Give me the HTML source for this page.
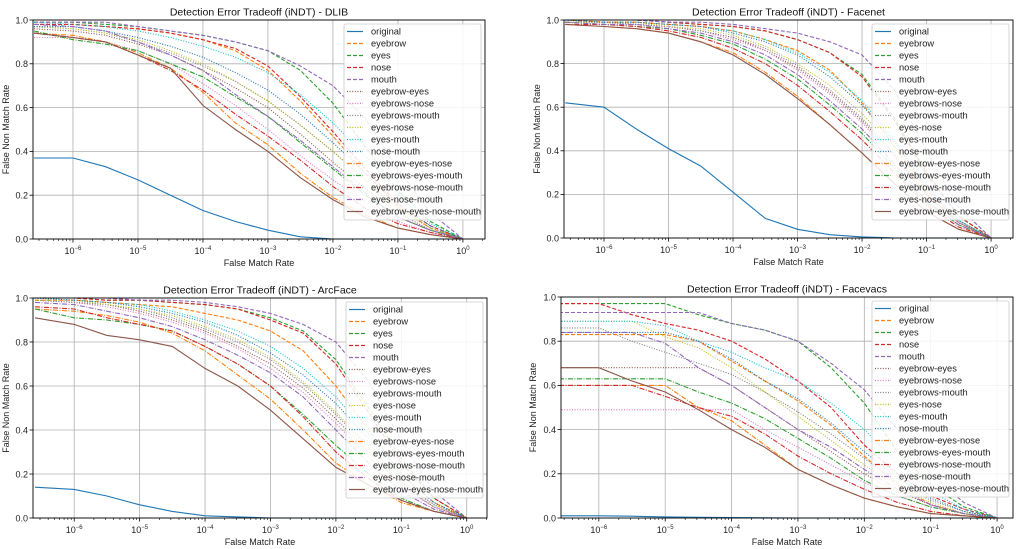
<!DOCTYPE html>
<html><head><meta charset="utf-8">
<style>
html,body{margin:0;padding:0;background:#fff;}
svg{display:block;font-family:"Liberation Sans","DejaVu Sans",sans-serif;}
</style></head>
<body>
<svg id="fig" width="1021" height="549" viewBox="0 0 1021 549" xmlns="http://www.w3.org/2000/svg"></svg>
<script>
const xLogs = [-6.6,-6,-5.5,-5,-4.5,-4,-3.5,-3,-2.5,-2,-1.5,-1,-0.5,0];
const seriesNames = ["original","eyebrow","eyes","nose","mouth","eyebrow-eyes","eyebrows-nose","eyebrows-mouth","eyes-nose","eyes-mouth","nose-mouth","eyebrow-eyes-nose","eyebrows-eyes-mouth","eyebrows-nose-mouth","eyes-nose-mouth","eyebrow-eyes-nose-mouth"];
const yTicks = [0,0.2,0.4,0.6,0.8,1.0];
const yTickLabels = ["0.0","0.2","0.4","0.6","0.8","1.0"];
const xTickExps = [-6,-5,-4,-3,-2,-1,0];

const dlibVals = [
[.37,.37,.33,.27,.2,.13,.08,.04,.01,0,0,0,0,0],
[.98,.98,.97,.96,.94,.91,.86,.77,.63,.47,.3,.15,.05,0],
[.99,.99,.98,.97,.95,.93,.9,.86,.77,.62,.42,.22,.08,0],
[.98,.98,.97,.96,.94,.91,.87,.79,.65,.49,.32,.16,.06,0],
[.99,.99,.99,.97,.95,.93,.9,.86,.79,.7,.55,.32,.12,0],
[.96,.95,.93,.89,.84,.77,.69,.6,.48,.35,.23,.12,.04,0],
[.92,.92,.9,.86,.8,.71,.61,.5,.38,.27,.17,.08,.03,0],
[.97,.96,.94,.9,.85,.79,.72,.63,.52,.4,.27,.14,.05,0],
[.97,.96,.94,.91,.86,.8,.72,.63,.52,.4,.27,.14,.05,0],
[.99,.98,.97,.95,.92,.88,.83,.76,.66,.53,.38,.2,.07,0],
[.97,.97,.95,.92,.88,.83,.76,.68,.57,.44,.3,.16,.06,0],
[.94,.93,.9,.85,.78,.67,.53,.43,.3,.19,.11,.05,.02,0],
[.95,.91,.89,.86,.8,.74,.65,.56,.44,.32,.2,.1,.04,0],
[.94,.92,.9,.84,.77,.68,.57,.47,.36,.24,.14,.07,.03,0],
[.98,.97,.95,.9,.84,.77,.66,.56,.45,.33,.21,.1,.04,0],
[.94,.92,.9,.84,.78,.61,.5,.4,.28,.18,.1,.05,.02,0]];

const facenetVals = [
[.62,.6,.5,.41,.33,.21,.09,.04,.015,.005,0,0,0,0],
[1,.99,.99,.98,.97,.95,.91,.86,.77,.62,.42,.22,.07,0],
[1,1,1,.99,.98,.97,.95,.91,.85,.75,.55,.3,.1,0],
[1,1,1,.99,.98,.97,.95,.91,.85,.74,.54,.29,.1,0],
[1,1,1,.99,.99,.98,.96,.94,.9,.84,.68,.4,.14,0],
[.99,.99,.98,.97,.95,.92,.86,.78,.67,.54,.38,.2,.07,0],
[.99,.99,.98,.97,.95,.91,.86,.77,.66,.53,.37,.19,.07,0],
[.99,.99,.98,.97,.95,.92,.87,.79,.68,.55,.39,.2,.07,0],
[.99,.99,.99,.97,.96,.93,.88,.8,.7,.57,.41,.21,.08,0],
[1,.99,.99,.98,.97,.95,.91,.85,.76,.63,.45,.24,.08,0],
[1,.99,.99,.98,.97,.94,.9,.84,.74,.61,.44,.23,.08,0],
[.98,.97,.96,.94,.9,.85,.76,.65,.52,.39,.25,.12,.04,0],
[.99,.98,.97,.96,.93,.89,.82,.73,.61,.48,.32,.16,.06,0],
[.98,.98,.97,.95,.92,.87,.8,.7,.58,.45,.3,.15,.05,0],
[.99,.98,.98,.96,.94,.9,.84,.75,.63,.5,.34,.17,.06,0],
[.98,.97,.96,.94,.9,.84,.75,.64,.52,.39,.25,.12,.04,0]];

const arcfaceVals = [
[.14,.13,.1,.06,.03,.01,.005,0,0,0,0,0,0,0],
[.99,.99,.98,.97,.96,.93,.9,.85,.76,.6,.4,.2,.07,0],
[1,1,.99,.99,.98,.97,.95,.91,.85,.72,.5,.27,.09,0],
[1,1,.99,.99,.98,.97,.95,.9,.84,.7,.48,.25,.09,0],
[1,1,1,.99,.99,.98,.96,.93,.88,.8,.62,.35,.12,0],
[.99,.98,.97,.94,.9,.85,.78,.7,.59,.45,.3,.15,.05,0],
[.99,.98,.96,.93,.89,.84,.77,.68,.57,.43,.28,.14,.05,0],
[.99,.98,.97,.95,.91,.86,.8,.72,.61,.47,.32,.16,.06,0],
[.99,.99,.97,.95,.92,.87,.81,.73,.62,.48,.33,.17,.06,0],
[1,.99,.98,.97,.94,.9,.85,.78,.68,.55,.38,.2,.07,0],
[1,.99,.98,.96,.93,.89,.83,.75,.65,.52,.36,.19,.07,0],
[.95,.94,.92,.89,.84,.76,.65,.54,.4,.25,.15,.07,.03,0],
[.95,.91,.9,.88,.85,.78,.7,.6,.47,.33,.2,.09,.03,0],
[.96,.95,.91,.88,.85,.78,.7,.6,.46,.3,.18,.08,.03,0],
[.98,.97,.94,.91,.87,.81,.74,.66,.55,.4,.25,.12,.04,0],
[.91,.88,.83,.81,.78,.68,.6,.49,.36,.23,.15,.08,.03,0]];

const facevacsVals = [
[.01,.01,.008,.005,.003,.002,.001,0,0,0,0,0,0,0],
[.83,.83,.83,.83,.8,.71,.62,.53,.42,.28,.15,.06,.02,0],
[.97,.97,.97,.97,.92,.88,.85,.8,.68,.52,.3,.15,.05,0],
[.97,.97,.92,.88,.85,.8,.72,.62,.5,.33,.2,.1,.04,0],
[.93,.93,.93,.93,.93,.88,.85,.8,.7,.58,.4,.2,.07,0],
[.68,.68,.68,.68,.68,.6,.5,.4,.3,.2,.12,.06,.02,0],
[.49,.49,.49,.49,.49,.49,.4,.32,.24,.16,.1,.05,.02,0],
[.86,.86,.8,.75,.7,.65,.57,.48,.38,.27,.16,.08,.03,0],
[.89,.89,.89,.82,.77,.68,.57,.46,.35,.24,.14,.07,.02,0],
[.89,.89,.89,.87,.8,.75,.68,.62,.52,.4,.25,.12,.04,0],
[.84,.84,.84,.84,.8,.72,.62,.54,.43,.3,.18,.09,.03,0],
[.6,.6,.6,.6,.5,.44,.33,.22,.15,.09,.05,.02,.01,0],
[.63,.63,.63,.63,.57,.52,.45,.36,.27,.17,.1,.05,.02,0],
[.6,.6,.6,.55,.5,.46,.38,.28,.2,.13,.07,.03,.01,0],
[.84,.84,.84,.79,.68,.6,.5,.4,.32,.22,.13,.06,.02,0],
[.68,.68,.62,.57,.49,.4,.32,.22,.15,.09,.05,.02,.01,0]];

const colors = ["#1f77b4","#ff7f0e","#2ca02c","#d62728","#9467bd","#8c564b","#e377c2","#7f7f7f","#bcbd22","#17becf","#1f77b4","#ff7f0e","#2ca02c","#d62728","#9467bd","#8c564b"];
const dashes = ["","4,2","4,2","4,2","4,2","1,1.6","1,1.6","1,1.6","1,1.6","1,1.6","1,1.6","5,1.5,1,1.5","5,1.5,1,1.5","5,1.5,1,1.5","5,1.5,1,1.5",""];

const panels = [
 {name:"dlib",title:"Detection Error Tradeoff (iNDT) - DLIB",L:33,R:485,T:20,B:239,x0:-6.615,x1:0.34,ylx:9,vals:dlibVals},
 {name:"facenet",title:"Detection Error Tradeoff (iNDT) - Facenet",L:564,R:1013,T:20,B:238,x0:-6.62,x1:0.34,ylx:540,vals:facenetVals},
 {name:"arcface",title:"Detection Error Tradeoff (iNDT) - ArcFace",L:33,R:487,T:298,B:518,x0:-6.63,x1:0.31,ylx:9,vals:arcfaceVals},
 {name:"facevacs",title:"Detection Error Tradeoff (iNDT) - Facevacs",L:561,R:1013,T:297,B:518,x0:-6.57,x1:0.24,ylx:536,vals:facevacsVals}
];
const NS="http://www.w3.org/2000/svg";
const fig=document.getElementById('fig');
function mk(tag,attrs,parent){const e=document.createElementNS(NS,tag);for(const k in attrs)e.setAttribute(k,attrs[k]);parent.appendChild(e);return e;}

panels.forEach(p=>{
 const g=mk('g',{},fig);
 
 
 const xs=v=>p.L+(v-p.x0)/(p.x1-p.x0)*(p.R-p.L);
 const ys=v=>p.B-v*(p.B-p.T);
 xTickExps.forEach(e=>{const l=mk('line',{x1:xs(e),x2:xs(e),y1:p.T,y2:p.B,stroke:"#b0b0b0","stroke-width":0.8},g);
  
  });
 yTicks.forEach(v=>{const l=mk('line',{x1:p.L,x2:p.R,y1:ys(v),y2:ys(v),stroke:"#b0b0b0","stroke-width":0.8},g);
  
  });
 const clipId='clip-'+p.name;
 const cp=mk('clipPath',{id:clipId},g);mk('rect',{x:p.L,y:p.T-2,width:p.R-p.L,height:p.B-p.T+4},cp);
 const sg=mk('g',{'clip-path':'url(#'+clipId+')'},g);
 p.vals.forEach((arr,i)=>{
  const d=arr.map((v,j)=>(j?'L':'M')+xs(xLogs[j]).toFixed(1)+','+ys(v).toFixed(1)).join('');
  const a={d:d,fill:"none",stroke:colors[i],"stroke-width":1.1};
  if(dashes[i])a["stroke-dasharray"]=dashes[i];
  const path=mk('path',a,sg);
  
  
 });
 const fr=mk('rect',{x:p.L,y:p.T,width:p.R-p.L,height:p.B-p.T,fill:"none",stroke:"#000","stroke-width":0.9},g);
 
 
 for(let e=-7;e<=0;e++){for(let m=2;m<10;m++){const v=e+Math.log10(m);if(v<p.x0||v>p.x1)continue;
  mk('line',{x1:xs(v),x2:xs(v),y1:p.B,y2:p.B+2,stroke:"#000","stroke-width":0.6},g);}}
 xTickExps.forEach(e=>{
  mk('line',{x1:xs(e),x2:xs(e),y1:p.B,y2:p.B+3.5,stroke:"#000","stroke-width":0.8},g);
  const t=mk('text',{x:xs(e),y:p.B+15,"font-size":9,"text-anchor":"middle",fill:"#222"},g);
  
  
  t.appendChild(document.createTextNode('10'));
  const s=mk('tspan',{dy:-4,"font-size":6},t);s.textContent=(e<0?'\u2212':'')+Math.abs(e);
 });
 yTicks.forEach((v,i)=>{
  mk('line',{x1:p.L-3.5,x2:p.L,y1:ys(v),y2:ys(v),stroke:"#000","stroke-width":0.8},g);
  const t=mk('text',{x:p.L-5,y:ys(v)+3.3,"font-size":9,"text-anchor":"end",fill:"#222"},g);
  
  
  t.textContent=yTickLabels[i];
 });
 const tt=mk('text',{x:(p.L+p.R)/2,y:p.T-4.5,"font-size":10.5,"text-anchor":"middle",fill:"#111"},g);
 
 
 tt.textContent=p.title;
 const xl=mk('text',{x:(p.L+p.R)/2,y:p.B+27,"font-size":9,"text-anchor":"middle",fill:"#222"},g);
 
 
 xl.textContent="False Match Rate";
 const cy=(p.T+p.B)/2;
 const yl=mk('text',{x:p.ylx,y:cy,"font-size":9,"text-anchor":"middle",fill:"#222",transform:`rotate(-90 ${p.ylx} ${cy})`},g);
 
 
 yl.textContent="False Non Match Rate";
 const lx=p.R-141, ly=p.T+4;
 const lg=mk('g',{},g);
 
 
 mk('rect',{x:lx,y:ly,width:137,height:196,rx:2,fill:"#fff","fill-opacity":0.85,stroke:"#ccc","stroke-width":0.8},lg);
 seriesNames.forEach((n,i)=>{
  const yy=ly+7.5+i*12;
  const e=mk('g',{},lg);
  
  
  const a={x1:lx+3,x2:lx+19,y1:yy,y2:yy,stroke:colors[i],"stroke-width":1.2};
  if(dashes[i])a["stroke-dasharray"]=dashes[i];
  mk('line',a,e);
  const t=mk('text',{x:lx+27,y:yy+3.2,"font-size":9.3,fill:"#222"},e);
  t.textContent=n;
 });
});
</script>
</body></html>
